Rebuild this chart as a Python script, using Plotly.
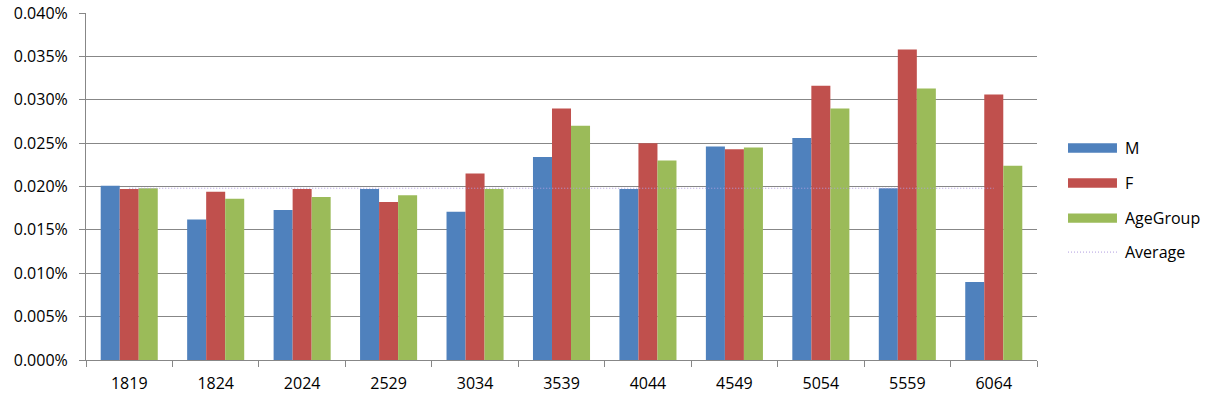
import plotly.graph_objects as go

categories = ["1819", "1824", "2024", "2529", "3034", "3539", "4044", "4549", "5054", "5559", "6064"]
m_values = [0.000201, 0.000162, 0.000173, 0.000197, 0.000171, 0.000234, 0.000197, 0.000246, 0.000256, 0.000198, 0.000090]
f_values = [0.000197, 0.000194, 0.000197, 0.000182, 0.000215, 0.000290, 0.000250, 0.000243, 0.000316, 0.000358, 0.000306]
age_values = [0.000198, 0.000186, 0.000188, 0.000190, 0.000197, 0.000270, 0.000230, 0.000245, 0.000290, 0.000313, 0.000224]
average_value = 0.000198
y_ticks = [0.0, 0.00005, 0.0001, 0.00015, 0.0002, 0.00025, 0.0003, 0.00035, 0.0004]

series_names = ["M", "F", "AgeGroup"]
colors = ["#4f81bd", "#c0504d", "#9bbb59"]
avg_color = "#b09ee0"
FONT = "Open Sans"

fig = go.Figure()
for name, vals, col in zip(series_names, [m_values, f_values, age_values], colors):
    fig.add_trace(go.Bar(x=categories, y=vals, name=name, marker=dict(color=col, line=dict(width=0))))

fig.add_trace(go.Scatter(x=categories, y=[average_value] * len(categories), mode="lines",
                         name="Average", line=dict(color=avg_color, width=1, dash="1px,2px")))

fig.update_layout(
    width=1211, height=399,
    margin=dict(l=86, r=174, t=13, b=39),
    paper_bgcolor="white", plot_bgcolor="white",
    barmode="group", bargap=0.34, bargroupgap=0,
    showlegend=False,
    font=dict(family=FONT, size=16, color="black"),
)
fig.update_xaxes(
    type="category", tickson="boundaries", ticks="outside", ticklen=6, tickcolor="#878787",
    showline=True, linecolor="#878787", linewidth=1, showgrid=False, automargin=False,
    ticklabelstandoff=9,
    tickfont=dict(family=FONT, size=16, color="black"),
)
fig.update_yaxes(
    range=[0, 0.0004], tickvals=y_ticks, tickformat=".3%",
    ticks="outside", ticklen=6, tickcolor="#878787",
    showline=True, linecolor="#878787", linewidth=1, automargin=False,
    showgrid=True, gridcolor="#878787", gridwidth=1, zeroline=False,
    ticklabelstandoff=8,
    tickfont=dict(family=FONT, size=16, color="black"),
)

# custom legend
legend_y = [0.611, 0.510, 0.409]
x0, x1, xt = 1.0326, 1.0841, 1.0905
for name, col, yc in zip(series_names, colors, legend_y):
    fig.add_shape(type="rect", xref="paper", yref="paper", x0=x0, x1=x1,
                  y0=yc - 0.0135, y1=yc + 0.0135, fillcolor=col, line=dict(width=0))
    fig.add_annotation(xref="paper", yref="paper", x=xt, y=yc, text=name, showarrow=False,
                       xanchor="left", yanchor="middle", font=dict(family=FONT, size=16, color="black"))
fig.add_shape(type="line", xref="paper", yref="paper", x0=x0, x1=x1, y0=0.311, y1=0.311,
              line=dict(color=avg_color, width=1, dash="1px,2px"))
fig.add_annotation(xref="paper", yref="paper", x=xt, y=0.311, text="Average", showarrow=False,
                   xanchor="left", yanchor="middle", font=dict(family=FONT, size=16, color="black"))

fig.write_html("out.html", config={"displayModeBar": False},
               post_script="document.body.style.margin='0';document.body.style.overflow='hidden';")
